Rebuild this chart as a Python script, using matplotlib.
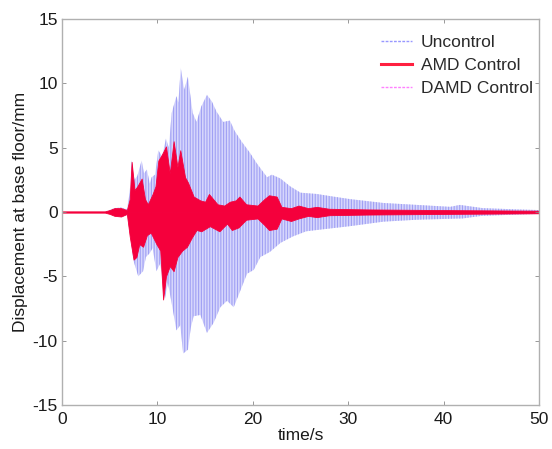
import matplotlib
matplotlib.use("Agg")
import matplotlib.pyplot as plt
from matplotlib.lines import Line2D

# envelopes (time in s, displacement in mm)
unc_t_up = [0, 4.5, 5.0, 5.5, 6.2, 6.8, 7.1, 7.3, 7.6, 7.9, 8.35, 8.6, 8.9, 9.2, 9.4,
            9.75, 10.1, 10.5, 10.9, 11.2, 11.5, 12.0, 12.2, 12.45, 12.8, 13.2, 13.5,
            13.7, 14.1, 14.6, 15.2, 15.7, 16.2, 16.9, 17.6, 18.1, 18.8, 19.7, 20.4,
            20.9, 21.5, 22.0, 22.9, 23.9, 25.0, 26.7, 28.4, 30.2, 33.7, 37.2, 40.7,
            41.7, 44.1, 47.7, 50]
unc_up = [0, 0, 0.15, 0.3, 0.35, 0.2, 1.5, 4.0, 2.5, 2.8, 4.0, 3.0, 3.3, 2.2, 2.7,
          2.9, 4.8, 4.3, 5.7, 5.0, 7.7, 9.0, 8.5, 11.2, 9.5, 10.5, 8.8,
          7.7, 7.0, 8.2, 9.1, 8.6, 7.8, 7.0, 7.1, 6.3, 5.5, 4.6, 3.8,
          3.3, 2.7, 2.9, 2.6, 2.0, 1.5, 1.4, 1.2, 1.0, 0.7, 0.55, 0.4,
          0.55, 0.3, 0.2, 0.15]
unc_t_lo = [0, 4.5, 5.0, 5.5, 6.2, 6.8, 7.1, 7.5, 8.0, 8.5, 8.8, 9.2, 9.5, 9.9, 10.3,
            10.8, 11.1, 11.5, 12.0, 12.4, 12.7, 13.2, 13.5, 13.8, 14.5, 15.2, 15.9,
            16.6, 17.3, 18.0, 18.7, 19.4, 20.1, 20.8, 21.8, 22.9, 24.2, 25.6, 26.7,
            30.2, 33.7, 37.2, 42.0, 44.0, 47.7, 50]
unc_lo = [0, 0, -0.15, -0.3, -0.4, -0.2, -1.5, -3.8, -5.0, -4.6, -3.5, -3.2, -2.8, -4.6, -4.0,
          -6.7, -5.5, -7.1, -9.2, -8.8, -11.0, -10.7, -9.0, -8.1, -8.0, -9.4, -8.6,
          -7.4, -6.9, -7.4, -6.1, -4.8, -4.5, -3.5, -3.1, -2.4, -1.9, -1.5, -1.4,
          -1.1, -0.75, -0.6, -0.5, -0.3, -0.2, -0.15]

amd_t_up = [0, 4.5, 5.0, 5.5, 6.2, 6.8, 7.1, 7.3, 7.6, 7.9, 8.35, 8.7, 9.0, 9.5, 9.8,
            10.1, 10.5, 10.9, 11.3, 11.7, 12.1, 12.4, 12.9, 13.2, 13.8, 14.5, 15.0,
            15.4, 16.3, 17.0, 17.6, 18.2, 18.6, 19.3, 20.5, 21.2, 21.7, 22.5, 23.0,
            24.0, 24.8, 25.8, 26.7, 28, 32, 40, 50]
amd_up = [0.05, 0.05, 0.15, 0.3, 0.3, 0.15, 1.0, 3.9, 1.7, 2.0, 2.6, 1.0, 0.6, 1.4, 2.0,
          4.0, 4.5, 5.1, 3.0, 5.5, 3.5, 4.8, 2.7, 2.3, 1.2, 0.9, 0.8,
          1.4, 0.6, 0.5, 0.8, 0.9, 1.2, 0.6, 0.5, 1.0, 1.3, 1.2, 0.4,
          0.3, 0.5, 0.3, 0.4, 0.25, 0.2, 0.15, 0.1]
amd_t_lo = [0, 4.5, 5.0, 5.5, 6.2, 6.8, 7.1, 7.5, 7.8, 8.1, 8.5, 8.9, 9.3, 9.9, 10.3,
            10.6, 10.9, 11.3, 11.7, 12.1, 12.6, 13.1, 13.6, 14.1, 14.6, 15.5, 16.5,
            17.3, 17.8, 18.5, 19.3, 20.5, 21.2, 21.7, 22.5, 23.0, 24.0, 24.8, 25.8,
            26.7, 28, 32, 40, 50]
amd_lo = [-0.05, -0.05, -0.15, -0.3, -0.35, -0.15, -1.9, -3.7, -3.5, -2.5, -2.7, -1.8, -1.6, -2.5, -3.0,
          -6.8, -5.0, -4.2, -4.6, -3.5, -3.0, -2.7, -2.0, -1.4, -1.5, -1.1, -1.5,
          -0.9, -1.4, -1.2, -0.6, -0.5, -1.0, -1.4, -1.3, -0.5, -0.7, -0.5, -0.3,
          -0.4, -0.25, -0.2, -0.15, -0.1]

damd_t = [0, 5, 7, 12, 20, 30, 50]
damd_up = [0.02, 0.05, 0.3, 0.3, 0.15, 0.1, 0.05]
damd_lo = [-0.02, -0.05, -0.3, -0.3, -0.15, -0.1, -0.05]

xticks = [0, 10, 20, 30, 40, 50]
yticks = [-15, -10, -5, 0, 5, 10, 15]

plt.rcParams['font.family'] = ['Liberation Sans', 'DejaVu Sans']
plt.rcParams['axes.unicode_minus'] = False
plt.rcParams['hatch.color'] = '#a0a0f4'
plt.rcParams['hatch.linewidth'] = 0.8

fig = plt.figure(figsize=(5.52, 4.49), dpi=100)
ax = fig.add_axes([0.1123, 0.098, 0.8641, 0.8597])

blue = '#a0a0f4'
red = '#f5003c'
pink = '#ff80ff'

ax.fill_between(unc_t_up, unc_up, 0, facecolor='#d6d6fc', edgecolor=blue,
                hatch='||||||', linewidth=0)
ax.fill_between(unc_t_lo, unc_lo, 0, facecolor='#d6d6fc', edgecolor=blue,
                hatch='||||||', linewidth=0)
ax.fill_between(damd_t, damd_up, damd_lo, color=pink, alpha=0.3, linewidth=0)
ax.fill_between(amd_t_up, amd_up, 0, color=red, linewidth=0.6)
ax.fill_between(amd_t_lo, amd_lo, 0, color=red, linewidth=0.6)

ax.set_xlim(0, 50)
ax.set_ylim(-15, 15)
ax.set_xticks(xticks)
ax.set_yticks(yticks)
ax.tick_params(direction='in', top=True, right=True, length=3, width=0.6,
               color='#888888', labelsize=12.5, labelcolor='#1a1a1a')
ax.tick_params(axis='x', pad=5)
ax.tick_params(axis='y', pad=3)
for s in ax.spines.values():
    s.set_color('#b0b0b0')
    s.set_linewidth(1.0)

ax.set_xlabel('time/s', fontsize=12.5, color='#1a1a1a', labelpad=1)
ax.set_ylabel('Displacement at base floor/mm', fontsize=12.5, color='#1a1a1a', labelpad=3)

handles = [Line2D([], [], color='#9898ff', lw=1.0, ls='--', dashes=(2, 1)),
           Line2D([], [], color='#ff2040', lw=2.2),
           Line2D([], [], color=pink, lw=1.0, ls='--', dashes=(2, 1))]
ax.legend(handles, ['Uncontrol', 'AMD Control', 'DAMD Control'], loc='upper right',
          bbox_to_anchor=(1.012, 0.99), frameon=False, fontsize=12.5,
          handlelength=1.8, handletextpad=0.5, labelspacing=0.45,
          borderaxespad=0.3, labelcolor='#2a2a2a')

fig.savefig('out.png', dpi=100)
